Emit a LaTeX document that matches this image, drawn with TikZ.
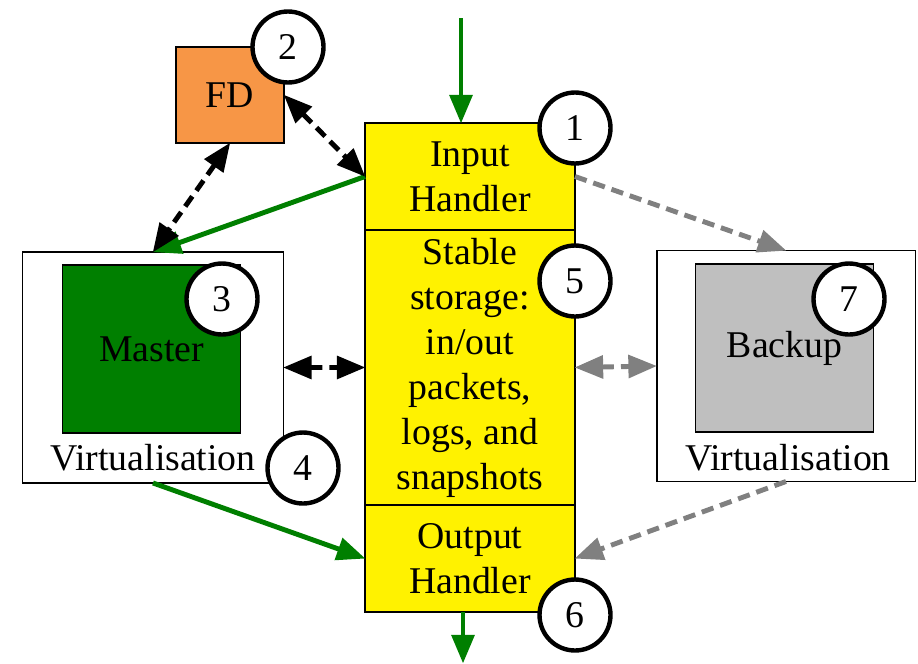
\documentclass[tikz,border=0pt]{standalone}
\usepackage{fontspec}
\setmainfont{Liberation Serif}
\usepackage{tikz}
\usetikzlibrary{arrows,positioning}

\definecolor{fdorange}{HTML}{F79646}
\definecolor{vmgreen}{HTML}{007F00}
\definecolor{vmgray}{HTML}{BFBFBF}
\definecolor{linkgray}{HTML}{808080}

\begin{document}
\begin{tikzpicture}[x=0.02cm,y=-0.02cm,>=triangle 45,font=\fontsize{21.5}{25.6}\selectfont]
	\tikzstyle{stage}=[rectangle, draw=black, line width=1.1pt, fill=yellow, minimum width=4.2cm, align=center, inner sep=0pt, outer sep=0pt]
	\tikzstyle{host}=[rectangle, draw=black, line width=1.1pt, fill=white, minimum width=5.22cm, minimum height=4.62cm, outer sep=0pt]
	\tikzstyle{vm}=[rectangle, draw=black, line width=1.1pt, minimum width=3.56cm, minimum height=3.36cm]
	\tikzstyle{num}=[circle, draw=black, line width=2.5pt, fill=white, minimum size=1.42cm, inner sep=0pt]
	\tikzstyle{link}=[line width=2.8pt]
	\tikzstyle{dlink}=[line width=2.8pt, dash pattern=on 7pt off 4pt]

	\useasboundingbox (0,0) rectangle (918,663);

	% yellow column
	\node [stage, minimum height=2.14cm] (input) at (470,176.5) {Input\\Handler};
	\node [stage, minimum height=5.5cm] (stable) [below=0pt of input] {Stable\\storage:\\in/out\\packets,\\logs, and\\snapshots};
	\node [stage, minimum height=2.14cm] (output) [below=0pt of stable] {Output\\Handler};

	% failure detector
	\node [rectangle, draw=black, line width=1.1pt, fill=fdorange, minimum width=2.16cm, minimum height=1.92cm, outer sep=0pt] (fd) at (230,95) {FD};

	% master and backup hosts
	\node [host] (master) at (153,367.5) {};
	\node [vm, fill=vmgreen] (mvm) at (151.5,349) {Master};
	\node (mvirt) at (153,458) {Virtualisation};

	\node [host, minimum width=5.18cm] (backup) at (786,366) {};
	\node [vm, fill=vmgray] (bvm) at (784.5,348) {Backup};
	\node (bvirt) at (788,458) {Virtualisation};

	% in and out of the system
	\coordinate (src) at (461,18);
	\coordinate (dst) at (463,663);
	\draw [link, vmgreen, ->] (src) -- (src |- input.north);
	\draw [link, vmgreen, ->] (output.south -| dst) -- (dst);

	% master path
	\draw [link, vmgreen, ->] (input.west) -- (master.north);
	\draw [link, vmgreen, ->] (master.south) -- (output.west);
	\draw [dlink, <->] (fd.east) -- (input.west);
	\draw [dlink, <->] (fd.south) -- (master.north);
	\draw [dlink, <->] (master.east) -- (stable.west);

	% backup path
	\draw [dlink, linkgray, ->] (input.east) -- (backup.north);
	\draw [dlink, linkgray, <->] (stable.east) -- (backup.west);
	\draw [dlink, linkgray, ->] (backup.south) -- (output.east);

	% numbered markers
	\node [num] (n1) at (575,128) {1};
	\node [num] (n2) at (288,47) {2};
	\node [num] (n3) at (222,299) {3};
	\node [num] (n4) at (303,468) {4};
	\node [num] (n5) at (575,281) {5};
	\node [num] (n6) at (575,615) {6};
	\node [num] (n7) at (849,299) {7};
\end{tikzpicture}
\end{document}
